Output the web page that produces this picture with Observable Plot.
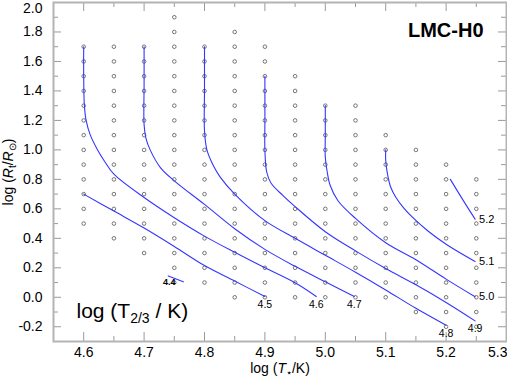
<!DOCTYPE html>
<html><head><meta charset="utf-8">
<script src="https://cdn.jsdelivr.net/npm/d3@7"></script>
<script src="https://cdn.jsdelivr.net/npm/@observablehq/plot@0.6"></script>
<style>
body{margin:0;background:#fff;}
#chart svg{display:block;font-family:"Liberation Sans",Arial,Helvetica,sans-serif;}
</style></head><body><div id="chart"></div>
<script>
// Grid of model points: one column per log T*, listing the log Rt values present
const gridColumnsX = [4.6, 4.65, 4.7, 4.75, 4.8, 4.85, 4.9, 4.95, 5.0, 5.05, 5.1, 5.15, 5.2, 5.25];
const gridColumnsY = [
  [1.7,1.6,1.5,1.4,1.3,1.2,1.1,1.0,0.9,0.8,0.7,0.6,0.5],
  [1.7,1.6,1.5,1.4,1.3,1.2,1.1,1.0,0.9,0.8,0.7,0.6,0.5,0.4],
  [1.7,1.6,1.5,1.4,1.3,1.2,1.1,1.0,0.9,0.8,0.7,0.6,0.5,0.4,0.3],
  [1.9,1.8,1.7,1.6,1.5,1.4,1.3,1.2,1.1,1.0,0.9,0.8,0.7,0.6,0.5,0.4,0.3,0.2,0.1],
  [1.7,1.6,1.5,1.4,1.3,1.2,1.1,1.0,0.9,0.8,0.7,0.6,0.5,0.4,0.3,0.2,0.1],
  [1.8,1.7,1.6,1.5,1.4,1.3,1.2,1.1,1.0,0.9,0.8,0.7,0.6,0.5,0.4,0.3,0.2,0.1,0.0],
  [1.7,1.6,1.5,1.4,1.3,1.2,1.1,1.0,0.9,0.8,0.7,0.6,0.5,0.4,0.3,0.2,0.1,0.0],
  [1.5,1.4,1.3,1.2,1.1,1.0,0.9,0.8,0.7,0.6,0.5,0.4,0.3,0.2,0.1,0.0],
  [1.3,1.2,1.1,1.0,0.9,0.8,0.7,0.6,0.5,0.4,0.3,0.2,0.1,0.0],
  [1.3,1.2,1.1,1.0,0.9,0.8,0.7,0.6,0.5,0.4,0.3,0.2,0.1,0.0],
  [1.1,1.0,0.9,0.8,0.7,0.6,0.5,0.4,0.3,0.2,0.1,0.0],
  [1.0,0.9,0.8,0.7,0.6,0.5,0.4,0.3,0.2,0.1,0.0,-0.1],
  [0.9,0.8,0.7,0.6,0.5,0.4,0.3,0.2,0.1,0.0,-0.1,-0.2],
  [0.8,0.7,0.6,0.5,0.4,0.3,0.2,0.1,0.0,-0.1,-0.2]
];

// Contours of log T_2/3
const contourLabels = ["4.4","4.5","4.6","4.7","4.8","4.9","5.0","5.1","5.2"];
const contourX = [
  [4.74, 4.765],
  [4.6, 4.65, 4.7, 4.75, 4.8, 4.85, 4.9],
  [4.6, 4.6, 4.601, 4.604, 4.611, 4.623, 4.635, 4.65, 4.7, 4.75, 4.8, 4.85, 4.9, 4.95, 4.985],
  [4.7, 4.7, 4.7, 4.703, 4.71, 4.727, 4.75, 4.8, 4.85, 4.9, 4.95, 5.0, 5.048],
  [4.8, 4.8, 4.8, 4.804, 4.815, 4.826, 4.85, 4.9, 4.95, 5.0, 5.05, 5.1, 5.15, 5.2],
  [4.9, 4.9, 4.9, 4.903, 4.91, 4.93, 4.95, 5.0, 5.05, 5.1, 5.15, 5.2, 5.248],
  [5.0, 5.0, 5.0, 5.003, 5.008, 5.021, 5.05, 5.1, 5.15, 5.2, 5.248],
  [5.1, 5.1, 5.103, 5.108, 5.117, 5.13, 5.145, 5.17, 5.2, 5.248],
  [5.207, 5.227, 5.248]
];
const contourY = [
  [0.145, 0.105],
  [0.70, 0.585, 0.47, 0.345, 0.215, 0.11, 0.005],
  [1.7, 1.5, 1.31, 1.2, 1.1, 1.0, 0.92, 0.835, 0.677, 0.54, 0.415, 0.305, 0.2, 0.098, 0.005],
  [1.7, 1.45, 1.17, 1.08, 1.0, 0.88, 0.79, 0.63, 0.465, 0.325, 0.21, 0.105, 0.005],
  [1.7, 1.4, 1.13, 1.0, 0.89, 0.815, 0.70, 0.52, 0.40, 0.285, 0.17, 0.05, -0.075, -0.19],
  [1.5, 1.2, 1.0, 0.85, 0.775, 0.69, 0.615, 0.445, 0.315, 0.195, 0.085, -0.035, -0.16],
  [1.3, 1.1, 0.95, 0.855, 0.76, 0.655, 0.535, 0.37, 0.255, 0.123, 0.003],
  [1.0, 0.93, 0.835, 0.75, 0.677, 0.605, 0.54, 0.45, 0.36, 0.243],
  [0.80, 0.666, 0.53]
];
const labelsBelow = ["4.5","4.6","4.7","4.8","4.9"];
const labelsRight = ["5.0","5.1","5.2"];
const labelsStart = ["4.4"];

const xMajorTicks = [4.6, 4.7, 4.8, 4.9, 5.0, 5.1, 5.2, 5.3];
const xMinorTicks = [4.65, 4.75, 4.85, 4.95, 5.05, 5.15, 5.25];
const yMajorTicks = [-0.2, 0.0, 0.2, 0.4, 0.6, 0.8, 1.0, 1.2, 1.4, 1.6, 1.8, 2.0];
const yMinorTicks = [-0.1, 0.1, 0.3, 0.5, 0.7, 0.9, 1.1, 1.3, 1.5, 1.7, 1.9];

const xLabel = "log (T*/K)";
const yLabel = "log (Rt/Rsun)";
const titleText = "LMC-H0";
const panelText = "log (T2/3 / K)";

const W = 507, H = 378, mL = 53, mR = 1, mT = 2, mB = 37;
const plotW = W - mL - mR, plotH = H - mT - mB;

const points = gridColumnsX.flatMap((x, i) => gridColumnsY[i].map(y => ({x, y})));
const curves = contourLabels.flatMap((lab, i) => contourX[i].map((x, j) => ({lab, x, y: contourY[i][j]})));
const ends = contourLabels.map((lab, i) => ({lab, x: contourX[i][contourX[i].length - 1], y: contourY[i][contourY[i].length - 1]}));
const starts = contourLabels.map((lab, i) => ({lab, x: contourX[i][0], y: contourY[i][0]}));

const fmt = d => d.toFixed(1);
const tickColor = "#9a9a9a";
const xLast = xMajorTicks[xMajorTicks.length - 1];
const yLast = yMajorTicks[yMajorTicks.length - 1];

const chart = Plot.plot({
  width: W, height: H,
  marginLeft: mL, marginRight: mR, marginTop: mT, marginBottom: mB,
  x: {domain: [4.55, 5.3]},
  y: {domain: [-0.3, 2.0]},
  style: {fontFamily: "'Liberation Sans', Arial, Helvetica, sans-serif", fontSize: "14px", color: "#000", background: "#fff"},
  marks: [
    Plot.tickX(xMajorTicks, {x: d => d, insetTop: plotH - 9, stroke: tickColor}),
    Plot.tickX(xMajorTicks, {x: d => d, insetBottom: plotH - 9, stroke: tickColor}),
    Plot.tickX(xMinorTicks, {x: d => d, insetTop: plotH - 5, stroke: tickColor}),
    Plot.tickX(xMinorTicks, {x: d => d, insetBottom: plotH - 5, stroke: tickColor}),
    Plot.tickY(yMajorTicks, {y: d => d, insetRight: plotW - 8, stroke: tickColor}),
    Plot.tickY(yMajorTicks, {y: d => d, insetLeft: plotW - 8, stroke: tickColor}),
    Plot.tickY(yMinorTicks, {y: d => d, insetRight: plotW - 5, stroke: tickColor}),
    Plot.tickY(yMinorTicks, {y: d => d, insetLeft: plotW - 5, stroke: tickColor}),
    Plot.frame({stroke: "#b4b4b4", strokeWidth: 2}),
    Plot.axisX(xMajorTicks.filter(d => d !== xLast), {tickSize: 0, tickPadding: 6, tickFormat: fmt, label: xLabel, labelAnchor: "center", labelOffset: 31}),
    Plot.axisX([xLast], {tickSize: 0, tickPadding: 6, tickFormat: fmt, textAnchor: "end", dx: 1, label: null}),
    Plot.axisY(yMajorTicks.filter(d => d !== yLast), {tickSize: 0, tickPadding: 11, tickFormat: fmt, label: yLabel, labelAnchor: "center", labelOffset: 50}),
    Plot.axisY([yLast], {tickSize: 0, tickPadding: 11, tickFormat: fmt, dy: 6, label: null}),
    Plot.dot(points, {x: "x", y: "y", r: 1.8, stroke: "#555", strokeWidth: 0.8, fill: "none"}),
    Plot.line(curves, {x: "x", y: "y", z: "lab", stroke: "#3535ff", strokeWidth: 1.1, curve: "catmull-rom"}),
    Plot.text(ends.filter(d => labelsBelow.includes(d.lab)), {x: "x", y: "y", text: "lab", dy: 8, fontSize: 10.5, fill: "#000"}),
    Plot.text(ends.filter(d => labelsRight.includes(d.lab)), {x: "x", y: "y", text: "lab", dx: 4, textAnchor: "start", fontSize: 11, fill: "#000"}),
    Plot.text(starts.filter(d => labelsStart.includes(d.lab)), {x: "x", y: "y", text: "lab", dy: 6, dx: 1, fontSize: 9, fontWeight: "bold", fill: "#000"}),
    Plot.text([titleText], {frameAnchor: "top-right", lineAnchor: "middle", dx: -23, dy: 28, fontSize: 20, fontWeight: "bold", fill: "#000"}),
    Plot.text([panelText], {frameAnchor: "bottom-left", lineAnchor: "middle", textAnchor: "start", dx: 23, dy: -30, fontSize: 21, fill: "#000"})
  ]
});
document.getElementById("chart").appendChild(chart);

// rich text: italic symbols and subscripts
const svg = d3.select(chart);
function rich(sel, parts, sub) {
  sel.text(null);
  parts.forEach(p => {
    const t = sel.append("tspan").text(p.t);
    if (p.i) t.attr("font-style", "italic");
    if (p.s) t.attr("font-size", sub.size).attr("dy", sub.dy);
    if (p.r) t.attr("dy", -sub.dy);
  });
}
svg.selectAll("text").each(function() {
  const s = d3.select(this);
  const txt = this.textContent;
  if (txt.includes(xLabel)) {
    rich(s, [{t: "log ("}, {t: "T", i: 1}, {t: "\u22C6", s: 1}, {t: "/K)", r: 1}], {size: 10, dy: 3});
  } else if (txt.includes(yLabel)) {
    rich(s, [{t: "log ("}, {t: "R", i: 1}, {t: "t", s: 1}, {t: "/", r: 1}, {t: "R", i: 1}, {t: "\u2299", s: 1}, {t: ")", r: 1}], {size: 10, dy: 3});
  } else if (txt === panelText) {
    rich(s, [{t: "log (T"}, {t: "2/3", s: 1}, {t: " / K)", r: 1}], {size: 14, dy: 5});
  }
});
</script>
</body></html>
